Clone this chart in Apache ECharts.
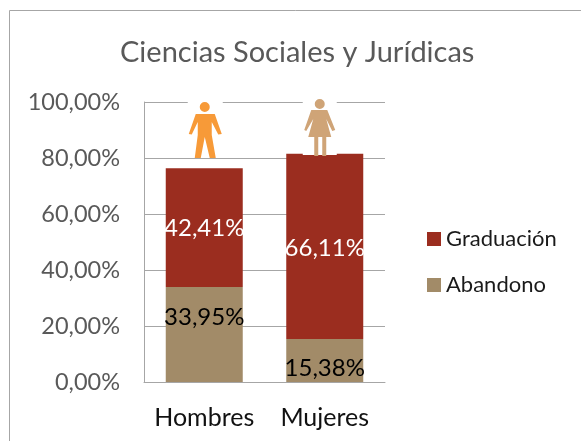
<!DOCTYPE html>
<html>
<head>
<meta charset="utf-8">
<script src="https://cdn.jsdelivr.net/npm/echarts@6/dist/echarts.min.js"></script>
<style>html,body{margin:0;padding:0;background:#fff}#c{width:581px;height:441px}</style>
</head>
<body>
<div id="c"></div>
<script>
var titleText = 'Ciencias Sociales y Jurídicas';
var categories = ['Hombres', 'Mujeres'];
var abandono = [33.95, 15.38];
var graduacion = [42.41, 66.11];
var iconPositions = [90, 90.9];

var abandonoLabelOffsets = [[0, -17], [0, 8]];
var graduacionLabelOffsets = [[0, 1], [0, 2]];
var iconOffsets = [[1, 0], [-5, 0]];
var iconBackOffsets = [[1, -1], [-5, -1]];
var iconSizes = [[33, 56], [31, 57]];
var iconBackSizes = [[35, 56], [34, 57]];
var manPath = 'path://M16 0A5 5 0 1 1 16 10A5 5 0 1 1 16 0ZM7 12L26 12L33 32L29.500 32.500L23 20L23 33L27 56L21 56L16 35L12 56L6 56L9 33L9 20L3 32.500L0 32Z';
var womanPath = 'path://M15.500 0A5 5 0 1 1 15.500 10A5 5 0 1 1 15.500 0ZM7 11L23 11L31 31L28 32L22 20L27 38L22 38L22 57L18 57L18 38L14 38L14 57L10 57L10 38L4 38L9 20L2 32L0 31Z';
var iconPaths = [manPath, womanPath];

var font = 'Lato, Carlito, sans-serif';
var fmt = function (v) { return v.toFixed(2).replace('.', ',') + '%'; };
var chart = echarts.init(document.getElementById('c'));
chart.setOption({
  animation: false,
  backgroundColor: '#fff',
  title: {
    text: titleText, left: 120, top: 38, padding: 0,
    textStyle: { fontFamily: font, fontSize: 29, fontWeight: 'normal', color: '#595959' }
  },
  grid: { left: 144, top: 102, width: 241, height: 280 },
  legend: {
    data: ['Graduación', 'Abandono'],
    orient: 'vertical', left: 422, top: 223,
    itemWidth: 14, itemHeight: 14, itemGap: 24, icon: 'rect',
    textStyle: { fontFamily: font, fontSize: 22, color: '#1a1a1a' }
  },
  xAxis: {
    type: 'category', data: categories,
    axisTick: { show: false },
    axisLine: { lineStyle: { color: '#a6a6a6', width: 1 } },
    axisLabel: { fontFamily: font, fontSize: 25, color: '#111', margin: 23, interval: 0, hideOverlap: false }
  },
  yAxis: {
    type: 'value', min: 0, max: 100, interval: 20,
    axisLine: { show: true, lineStyle: { color: '#a6a6a6', width: 1 } },
    axisTick: { show: false },
    splitLine: { lineStyle: { color: '#a6a6a6', width: 1 } },
    axisLabel: { fontFamily: font, fontSize: 23.5, color: '#595959', margin: 24, formatter: fmt }
  },
  series: [
    {
      name: 'Abandono', type: 'bar', stack: 's', barWidth: 77,
      itemStyle: { color: '#A28B68' },
      data: abandono.map(function (v, i) {
        return { value: v, label: { offset: abandonoLabelOffsets[i] } };
      }),
      label: { show: true, position: 'inside', fontFamily: font, fontSize: 24, color: '#000',
        formatter: function (p) { return fmt(p.value); } }
    },
    {
      name: 'Graduación', type: 'bar', stack: 's', barWidth: 77,
      itemStyle: { color: '#9B2D1F' },
      data: graduacion.map(function (v, i) {
        return { value: v, label: { offset: graduacionLabelOffsets[i] } };
      }),
      label: { show: true, position: 'inside', fontFamily: font, fontSize: 24, color: '#fff',
        formatter: function (p) { return fmt(p.value); } }
    },
    {
      type: 'scatter', z: 3, silent: true,
      data: iconPositions.map(function (v, i) {
        return { value: [categories[i], v], symbol: 'rect', symbolSize: iconBackSizes[i], symbolOffset: iconBackOffsets[i] };
      }),
      itemStyle: { color: '#fff', opacity: 1 }
    },
    {
      type: 'scatter', z: 4, silent: true,
      data: iconPositions.map(function (v, i) {
        return {
          value: [categories[i], v], symbol: iconPaths[i], symbolSize: iconSizes[i], symbolOffset: iconOffsets[i],
          itemStyle: { color: i === 0 ? '#F79A38' : '#CFA477', opacity: 1 }
        };
      })
    }
  ],
  graphic: [
    { type: 'line', silent: true, shape: { x1: 9.5, y1: 10.5, x2: 581, y2: 10.5 }, style: { stroke: '#a6a6a6', lineWidth: 1 } },
    { type: 'line', silent: true, shape: { x1: 9.5, y1: 10.5, x2: 9.5, y2: 441 }, style: { stroke: '#a6a6a6', lineWidth: 1 } }
  ]
});
</script>
</body>
</html>
